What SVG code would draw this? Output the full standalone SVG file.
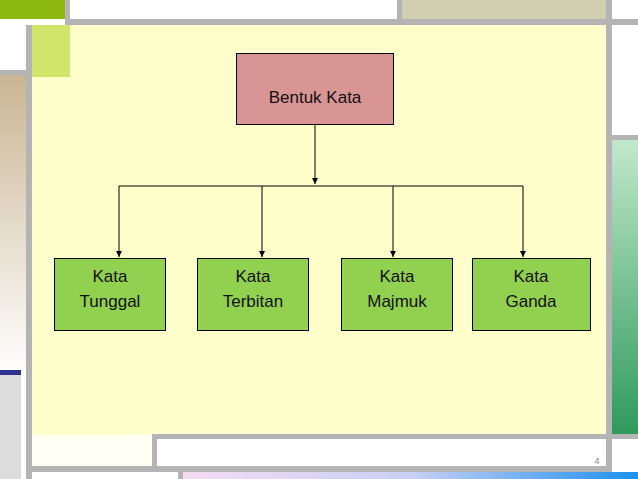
<svg xmlns="http://www.w3.org/2000/svg" width="638" height="479" viewBox="0 0 638 479">
<defs>
<linearGradient id="tan" x1="0" y1="0" x2="0" y2="1"><stop offset="0" stop-color="#c9b593"/><stop offset="1" stop-color="#ffffff"/></linearGradient>
<linearGradient id="grn" x1="0" y1="0" x2="0" y2="1"><stop offset="0" stop-color="#c2e8cc"/><stop offset="1" stop-color="#2f9a5c"/></linearGradient>
<linearGradient id="pb" x1="0" y1="0" x2="1" y2="0"><stop offset="0" stop-color="#f4dcf2"/><stop offset="0.5" stop-color="#c8d0f4"/><stop offset="1" stop-color="#1e90ee"/></linearGradient>
<marker id="ah" markerWidth="8" markerHeight="8" refX="6" refY="3" orient="auto" markerUnits="userSpaceOnUse"><path d="M0,0 L6,3 L0,6 Z" fill="#000"/></marker>
<style>
.box{stroke:#000;stroke-width:1}
.lbl{font-family:"Liberation Sans",Arial,sans-serif;font-size:17px;fill:#111;text-anchor:middle}
.g{fill:#b4b4b4}
</style>
</defs>
<rect width="638" height="479" fill="#fff"/>
<rect x="0" y="0" width="65" height="19" fill="#8db80f"/>
<rect x="402" y="0" width="204" height="19" fill="#d0d0b0"/>
<rect x="32" y="25" width="574" height="410" fill="#ffffcc"/>
<rect x="32" y="25" width="38" height="52" fill="#d0e56a"/>
<rect x="0" y="75" width="26" height="300" fill="url(#tan)"/>
<rect x="0" y="370" width="21" height="5" fill="#2e3192"/>
<rect x="0" y="375" width="21" height="104" fill="#dcdcdc"/>
<rect x="612" y="140" width="26" height="294" fill="url(#grn)"/>
<rect x="183" y="472" width="455" height="7" fill="url(#pb)"/>
<rect x="32" y="435" width="120" height="31" fill="#fffff4"/>
<g class="g">
<rect x="65" y="0" width="5" height="19"/>
<rect x="397" y="0" width="5" height="19"/>
<rect x="65" y="19" width="573" height="6"/>
<rect x="26" y="25" width="6" height="454"/>
<rect x="0" y="70" width="26" height="5"/>
<rect x="606" y="0" width="6" height="472"/>
<rect x="612" y="135" width="26" height="5"/>
<rect x="152" y="434" width="486" height="5"/>
<rect x="152" y="434" width="5" height="33"/>
<rect x="26" y="466" width="586" height="6"/>
<rect x="178" y="472" width="5" height="7"/>
</g>
<text x="597" y="464" font-family="Liberation Sans,Arial,sans-serif" font-size="9" fill="#888" text-anchor="middle">4</text>
<g id="connectors" stroke="#000" stroke-width="1" fill="none">
<line x1="315" y1="124" x2="315" y2="184" marker-end="url(#ah)"/>
<line x1="119" y1="186" x2="523" y2="186"/>
<line x1="119" y1="186" x2="119" y2="257" marker-end="url(#ah)"/>
<line x1="262" y1="186" x2="262" y2="257" marker-end="url(#ah)"/>
<line x1="393" y1="186" x2="393" y2="257" marker-end="url(#ah)"/>
<line x1="523" y1="186" x2="523" y2="257" marker-end="url(#ah)"/>
</g>
<g id="bentuk-kata"><rect class="box" x="236.5" y="53.5" width="157" height="71" fill="#d99594"/><text class="lbl" x="315" y="103">Bentuk Kata</text></g>
<g id="kata-tunggal"><rect class="box" x="54.5" y="258.5" width="111" height="72" fill="#92d050"/><text class="lbl" x="110" y="282">Kata</text><text class="lbl" x="110" y="307">Tunggal</text></g>
<g id="kata-terbitan"><rect class="box" x="197.5" y="258.5" width="111" height="72" fill="#92d050"/><text class="lbl" x="253" y="282">Kata</text><text class="lbl" x="253" y="307">Terbitan</text></g>
<g id="kata-majmuk"><rect class="box" x="341.5" y="258.5" width="111" height="72" fill="#92d050"/><text class="lbl" x="397" y="282">Kata</text><text class="lbl" x="397" y="307">Majmuk</text></g>
<g id="kata-ganda"><rect class="box" x="472.5" y="258.5" width="118" height="72" fill="#92d050"/><text class="lbl" x="531" y="282">Kata</text><text class="lbl" x="531" y="307">Ganda</text></g>
</svg>
